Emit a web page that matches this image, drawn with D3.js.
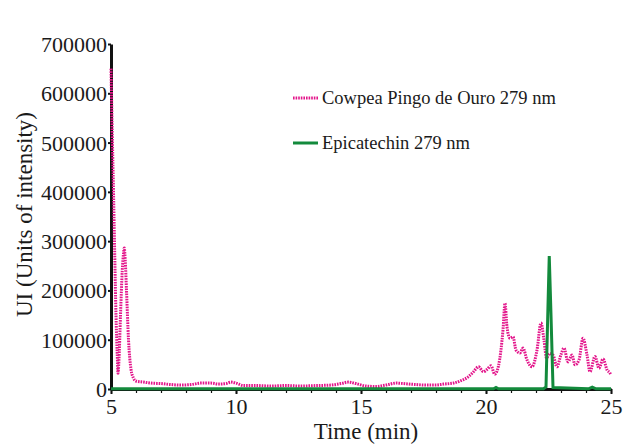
<!DOCTYPE html>
<head>
<meta charset="utf-8">
<style>
body { margin: 0; background: #fff; }
text { font-family: "Liberation Serif", "Times New Roman", serif; fill: #1a1a1a; }
.cowpea { fill: none; stroke: #e3168b; stroke-width: 3px; stroke-dasharray: 1.6,1; }
.epi { fill: none; stroke: #138a3c; stroke-width: 3px; }
</style>
</head>
<body>
<script src="https://cdn.jsdelivr.net/npm/d3@7"></script>
<script>

// chromatogram (time in min, intensity)
var cowpeaTime = [5.0, 5.05, 5.1, 5.15, 5.2, 5.25, 5.28, 5.32, 5.38, 5.45, 5.5, 5.53, 5.57, 5.62, 5.7, 5.8, 5.9, 6.0, 6.3, 6.6, 7.0, 7.4, 7.8, 8.2, 8.6, 9.0, 9.3, 9.6, 9.8, 10.0, 10.3, 10.8, 11.4, 12.0, 12.6, 13.2, 13.8, 14.2, 14.5, 14.8, 15.2, 15.6, 16.0, 16.4, 16.7, 17.2, 17.6, 18.0, 18.3, 18.7, 19.0, 19.3, 19.5, 19.7, 19.9, 20.05, 20.2, 20.35, 20.5, 20.6, 20.68, 20.76, 20.84, 20.96, 21.08, 21.2, 21.36, 21.48, 21.64, 21.84, 22.04, 22.2, 22.32, 22.42, 22.55, 22.68, 22.84, 23.0, 23.12, 23.28, 23.44, 23.56, 23.72, 23.88, 24.04, 24.16, 24.36, 24.52, 24.68, 24.85, 24.95, 25.0];
var cowpeaUI = [650000, 520000, 400000, 270000, 150000, 70000, 32000, 60000, 150000, 240000, 275000, 286000, 260000, 200000, 100000, 40000, 22000, 16000, 14000, 12000, 11000, 9000, 8000, 9000, 12000, 12000, 10000, 11000, 14000, 12000, 7000, 7000, 6000, 7000, 6000, 7000, 8000, 11000, 14000, 11000, 6000, 5000, 8000, 12000, 11000, 9000, 8000, 8000, 10000, 12000, 17000, 25000, 35000, 45000, 35000, 40000, 47000, 30000, 47000, 80000, 120000, 174000, 126000, 103000, 106000, 79000, 73000, 83000, 59000, 45000, 79000, 134000, 99000, 63000, 72000, 69000, 45000, 70000, 83000, 55000, 69000, 49000, 59000, 103000, 69000, 35000, 66000, 42000, 61000, 38000, 33000, 28000];

var epiTime = [5.0, 20.3, 20.4, 20.5, 22.3, 22.4, 22.47, 22.53, 22.6, 22.68, 24.1, 24.25, 24.4, 25.0];
var epiUI = [500, 500, 3000, 500, 500, 4000, 150000, 270000, 150000, 3000, 500, 4000, 500, 500];

var yTicks = [0, 100000, 200000, 300000, 400000, 500000, 600000, 700000];
var xTicks = [5, 10, 15, 20, 25];
var legendLabels = ["Cowpea Pingo de Ouro 279 nm", "Epicatechin 279 nm"];

var margin = {top: 44, right: 13, bottom: 55, left: 111},
    width = 624 - margin.left - margin.right,
    height = 444 - margin.top - margin.bottom;

var x = d3.scaleLinear().domain([5, 25]).range([0, width]);
var y = d3.scaleLinear().domain([0, 700000]).range([height, 0]);

var svg = d3.select("body").append("svg")
    .attr("width", 624)
    .attr("height", 444)
  .append("g")
    .attr("transform", "translate(" + margin.left + "," + margin.top + ")");

var cowpea = cowpeaTime.map(function(t, i) { return {t: t, v: cowpeaUI[i]}; });
var epi = epiTime.map(function(t, i) { return {t: t, v: epiUI[i]}; });

var line = d3.line()
    .x(function(d) { return x(d.t); })
    .y(function(d) { return y(d.v); })
    .curve(d3.curveMonotoneX);

// minor x ticks every minute
svg.append("g")
    .attr("transform", "translate(0," + height + ")")
    .call(d3.axisBottom(x).tickValues(d3.range(5, 26, 1)).tickSize(4).tickFormat(""))
    .call(function(g) { g.select(".domain").remove(); g.selectAll("line").attr("stroke", "#111").attr("stroke-width", 1.2); });

// x axis
var xAxis = svg.append("g")
    .attr("transform", "translate(0," + height + ")")
    .call(d3.axisBottom(x).tickValues(xTicks).tickSize(5).tickPadding(4).tickSizeOuter(0));
xAxis.select(".domain").attr("stroke", "#111").attr("stroke-width", 3);
xAxis.selectAll("line").attr("stroke", "#111").attr("stroke-width", 2);
xAxis.selectAll("text").style("font-size", "22px").attr("fill", "#1a1a1a");

// y axis
var yAxis = svg.append("g")
    .call(d3.axisLeft(y).tickValues(yTicks).tickFormat(d3.format("d")).tickSize(3).tickPadding(1).tickSizeOuter(0));
yAxis.select(".domain").attr("stroke", "#111").attr("stroke-width", 3);
yAxis.selectAll("line").attr("stroke", "#111").attr("stroke-width", 2);
yAxis.selectAll("text").style("font-size", "22px").attr("fill", "#1a1a1a").attr("dy", "0.34em");

// series
svg.append("path").datum(cowpea).attr("class", "cowpea").attr("d", line);
svg.append("path").datum(epi).attr("class", "epi").attr("d", d3.line()
    .x(function(d) { return x(d.t); })
    .y(function(d) { return y(d.v); }));

// axis titles
svg.append("text")
    .attr("x", width / 2 + 5)
    .attr("y", height + 50)
    .attr("text-anchor", "middle")
    .style("font-size", "23px")
    .text("Time (min)");

svg.append("text")
    .attr("transform", "translate(" + (-79) + "," + (height / 2 - 2) + ") rotate(-90)")
    .attr("text-anchor", "middle")
    .style("font-size", "23px")
    .text("UI (Units of intensity)");

// legend
var legend = svg.append("g").attr("transform", "translate(182,54)");
legendLabels.forEach(function(lab, i) {
  var g = legend.append("g").attr("transform", "translate(0," + (i * 45) + ")");
  g.append("line").attr("x1", 0).attr("x2", 25).attr("y1", 0).attr("y2", 0)
      .attr("class", i === 0 ? "cowpea" : "epi");
  g.append("text").attr("x", 29).attr("y", 0).attr("dy", "0.35em")
      .style("font-size", "18.5px").text(lab);
});

</script>
</body>
